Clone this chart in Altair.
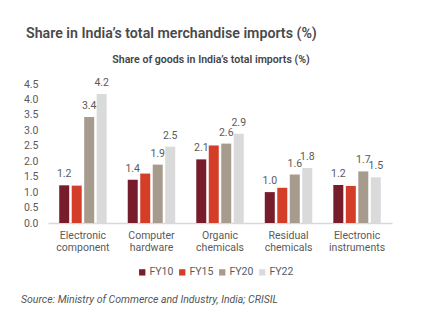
import altair as alt
import pandas as pd

categories = ["Electronic component", "Computer hardware", "Organic chemicals",
              "Residual chemicals", "Electronic instruments"]
years = ["FY10", "FY15", "FY20", "FY22"]
fy10 = [1.22, 1.40, 2.06, 1.00, 1.23]
fy15 = [1.21, 1.60, 2.51, 1.14, 1.20]
fy20 = [3.43, 1.89, 2.57, 1.57, 1.67]
fy22 = [4.18, 2.47, 2.89, 1.78, 1.48]
labelled_years = ["FY10", "FY20", "FY22"]
colors = ["#771c2a", "#d43d27", "#a79b8d", "#dadada"]
y_ticks = [0, 0.5, 1, 1.5, 2, 2.5, 3, 3.5, 4, 4.5]

title_text = "Share in India\u2019s total merchandise imports (%)"
subtitle_text = "Share of goods in India\u2019s total imports (%)"
source_text = "Source: Ministry of Commerce and Industry, India; CRISIL"

rows = []
for series_name, vals in zip(years, [fy10, fy15, fy20, fy22]):
    for c, v in zip(categories, vals):
        rows.append({"category": c, "year": series_name, "value": v})
df = pd.DataFrame(rows)

FONT = "Roboto"
GRAY = "#5a5a5a"

x_enc = alt.X("category:N", sort=categories,
              scale=alt.Scale(paddingInner=0.3, paddingOuter=0.16),
              axis=alt.Axis(title=None, labelAngle=0, ticks=False, domain=True,
                            domainColor="#d9d9d9", domainWidth=1.5,
                            labelExpr="split(datum.label, ' ')",
                            labelFont=FONT, labelFontSize=10.5, labelColor=GRAY,
                            labelPadding=7, labelLineHeight=12.5))
xo_enc = alt.XOffset("year:N", sort=years,
                     scale=alt.Scale(paddingInner=0.2, paddingOuter=0.02))
y_enc = alt.Y("value:Q", scale=alt.Scale(domain=[0, 4.5], nice=False),
              axis=alt.Axis(title=None, values=y_ticks, format=".1f", grid=False,
                            ticks=False, domain=False, labelFont=FONT,
                            labelOverlap=False, labelFlush=False,
                            labelFontSize=10.5, labelColor=GRAY, labelPadding=10))

bars = alt.Chart(df).mark_bar().encode(
    x=x_enc, xOffset=xo_enc, y=y_enc,
    color=alt.Color("year:N", sort=years,
                    scale=alt.Scale(domain=years, range=colors),
                    legend=alt.Legend(title=None, orient="none", direction="horizontal",
                                      legendX=89, legendY=183, symbolType="square",
                                      symbolSize=40, symbolStrokeWidth=0,
                                      labelFont=FONT, labelFontSize=10.5,
                                      labelColor=GRAY, labelOffset=2,
                                      columnPadding=3))
)

labels = alt.Chart(df).transform_filter(
    alt.FieldOneOfPredicate(field="year", oneOf=labelled_years)
).mark_text(font=FONT, fontSize=10.5, color=GRAY, baseline="alphabetic", dy=-8).encode(
    x=x_enc, xOffset=xo_enc, y=y_enc,
    text=alt.Text("value:Q", format=".1f")
)

anno = pd.DataFrame({"t": [title_text, subtitle_text, source_text],
                     "kind": ["title", "subtitle", "source"]})

title = alt.Chart(anno).transform_filter(alt.datum.kind == "title").mark_text(
    font=FONT, fontSize=14.2, fontWeight=600, color="#4a4a4a", align="left",
    baseline="alphabetic").encode(x=alt.value(-22), y=alt.value(-46), text="t:N")
subtitle = alt.Chart(anno).transform_filter(alt.datum.kind == "subtitle").mark_text(
    font=FONT, fontSize=10.6, fontWeight=600, color="#444444", align="center",
    baseline="alphabetic").encode(x=alt.value(163), y=alt.value(-21), text="t:N")
source = alt.Chart(anno).transform_filter(alt.datum.kind == "source").mark_text(
    font=FONT, fontSize=10.5, fontStyle="italic", color="#555555", align="left",
    baseline="alphabetic").encode(x=alt.value(-27), y=alt.value(219), text="t:N")

chart = alt.layer(bars, labels, title, subtitle, source).properties(
    width=344, height=139,
    autosize=alt.AutoSizeParams(type="none"),
    padding={"left": 48, "top": 84, "right": 43, "bottom": 98},
    background="white",
).configure_view(stroke=None)

chart.save("out.html", embed_options={"renderer": "svg", "actions": False})
